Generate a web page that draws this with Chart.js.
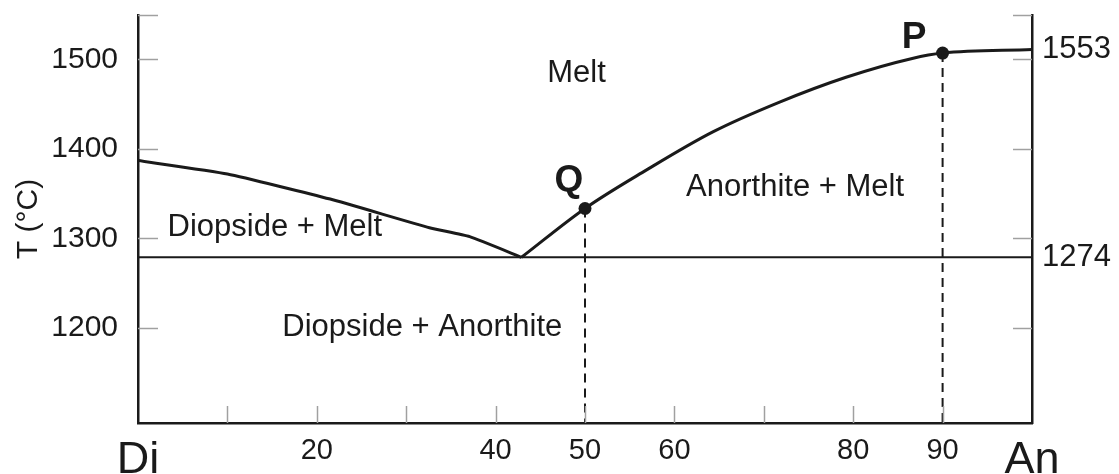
<!DOCTYPE html>
<html><head><meta charset="utf-8">
<script src="https://cdn.jsdelivr.net/npm/chart.js@4/dist/chart.umd.min.js"></script>
<style>html,body{margin:0;padding:0;background:#fff}#wrap{width:1119px;height:474px;position:relative}</style>
</head><body><div id="wrap"><canvas id="c"></canvas></div>
<script>
// ---- data ----
const xTickValues = [0,10,20,30,40,50,60,70,80,90,100];
const xTickLabels = {0:'Di',20:'20',40:'40',50:'50',60:'60',80:'80',90:'90',100:'An'};
const yTickValues = [1200,1300,1400,1500];
const yMin = 1094, yMax = 1549.5;
const diopsideLiquidusX = [0,10,21.5,32.6,37.1,42.9];
const diopsideLiquidusT = [1387,1372,1344,1312,1302,1279];
const anorthiteLiquidusX = [42.9,50,56.8,64.3,71.7,79.2,86.6,90,100];
const anorthiteLiquidusT = [1279,1333.5,1376,1419,1452,1480,1501,1507,1511];
const eutecticT = 1279;
const pointNames = ['Q','P'];
const pointX = [50,90];
const pointT = [1333.5,1507];
const rightLabels = ['1274','1553'];
const rightLabelT = [1279,1511];
const regionNames = ['Melt','Anorthite + Melt','Diopside + Melt','Diopside + Anorthite'];
const regionX = [49.05,73.5,15.3,31.8];
const regionT = [1484,1357,1312.6,1200.6];
const pointLabelX = [48.2,86.8];
const pointLabelT = [1364.5,1524.5];

const FONT = '"Liberation Sans", Arial, Helvetica, sans-serif';
const INK = '#1a1a1a';

const toXY = (xs, ts) => xs.map((x,i)=>({x, y: ts[i]}));
const noPad = s => { s.paddingTop = 0; s.paddingBottom = 0; s.paddingLeft = 0; s.paddingRight = 0; };

const innerTicks = {
  id:'innerTicks',
  afterDatasetsDraw(chart){
    const {ctx, chartArea:a, scales:{x,y}} = chart;
    ctx.save();
    ctx.strokeStyle = '#a0a0a0'; ctx.lineWidth = 1.5;
    const yt = yTickValues.concat([yMax]);
    yt.forEach(v=>{
      const py = Math.round(y.getPixelForValue(v))+0.5;
      ctx.beginPath(); ctx.moveTo(a.left, py); ctx.lineTo(a.left+20, py); ctx.stroke();
      ctx.beginPath(); ctx.moveTo(a.right-19, py); ctx.lineTo(a.right, py); ctx.stroke();
    });
    xTickValues.forEach(v=>{
      if (v===0||v===100) return;
      const px = Math.round(x.getPixelForValue(v))+0.5;
      ctx.beginPath(); ctx.moveTo(px, a.bottom); ctx.lineTo(px, a.bottom-17); ctx.stroke();
    });
    // text annotations
    ctx.fillStyle = INK; ctx.textAlign='center'; ctx.textBaseline='middle';
    ctx.font = '31px ' + FONT;
    regionNames.forEach((t,i)=>{
      ctx.fillText(t, x.getPixelForValue(regionX[i]), y.getPixelForValue(regionT[i]));
    });
    ctx.font = 'bold 37px ' + FONT;
    pointNames.forEach((t,i)=>{
      ctx.fillText(t, x.getPixelForValue(pointLabelX[i]), y.getPixelForValue(pointLabelT[i]));
    });
    ctx.restore();
  }
};

new Chart(document.getElementById('c'), {
  type:'scatter',
  data:{datasets:[
    {data: toXY([0,100],[eutecticT,eutecticT]), showLine:true, borderColor:INK, borderWidth:2, pointRadius:0},
    {data: toXY([pointX[0],pointX[0]],[pointT[0],yMin]), showLine:true, borderColor:INK, borderWidth:2, borderDash:[9,6], pointRadius:0},
    {data: toXY([pointX[1],pointX[1]],[pointT[1],yMin]), showLine:true, borderColor:INK, borderWidth:2, borderDash:[9,6], pointRadius:0},
    {data: toXY(diopsideLiquidusX, diopsideLiquidusT), showLine:true, borderColor:INK, borderWidth:3, pointRadius:0, tension:0.15},
    {data: toXY(anorthiteLiquidusX, anorthiteLiquidusT), showLine:true, borderColor:INK, borderWidth:3, pointRadius:0, cubicInterpolationMode:'monotone'},
    {data: toXY(pointX, pointT), showLine:false, pointRadius:6.5, pointBackgroundColor:INK, pointBorderWidth:0}
  ]},
  options:{
    responsive:true, maintainAspectRatio:false, animation:false,
    layout:{padding:{top:15,left:0,right:0,bottom:0}},
    plugins:{legend:{display:false}, tooltip:{enabled:false}},
    scales:{
      x:{type:'linear', min:0, max:100,
        afterBuildTicks: s=>{ s.ticks = xTickValues.map(v=>({value:v})); },
        afterFit: s=>{ s.height = 51; noPad(s); },
        grid:{display:false, drawTicks:false},
        border:{display:true, color:INK, width:2.5},
        ticks:{ autoSkip:false, maxRotation:0, padding:11, color:INK,
          callback: v => xTickLabels[v] !== undefined ? xTickLabels[v] : '',
          font: c => (c.tick && (c.tick.value===0||c.tick.value===100)) ? {family:FONT,size:45} : {family:FONT,size:29}
        }
      },
      y:{type:'linear', position:'left', min:yMin, max:yMax,
        afterBuildTicks: s=>{ s.ticks = yTickValues.map(v=>({value:v})); },
        afterFit: s=>{ s.width = 138; noPad(s); },
        grid:{display:false, drawTicks:false},
        border:{display:true, color:INK, width:2.5},
        ticks:{padding:20, color:INK, font:{family:FONT,size:30}, callback: v => String(v)},
        title:{display:true, text:'T (°C)', color:INK, font:{family:FONT,size:30}, padding:{top:11,bottom:0}}
      },
      y2:{type:'linear', position:'right', min:yMin, max:yMax,
        afterBuildTicks: s=>{ s.ticks = rightLabelT.map(v=>({value:v})); },
        afterFit: s=>{ s.width = 87; noPad(s); },
        grid:{display:false, drawTicks:false},
        border:{display:true, color:INK, width:2.5},
        ticks:{padding:10, color:INK, font:{family:FONT,size:31},
          callback: v => { const i = rightLabelT.indexOf(v); return i>=0 ? rightLabels[i] : ''; } }
      }
    }
  },
  plugins:[innerTicks]
});
</script></body></html>
